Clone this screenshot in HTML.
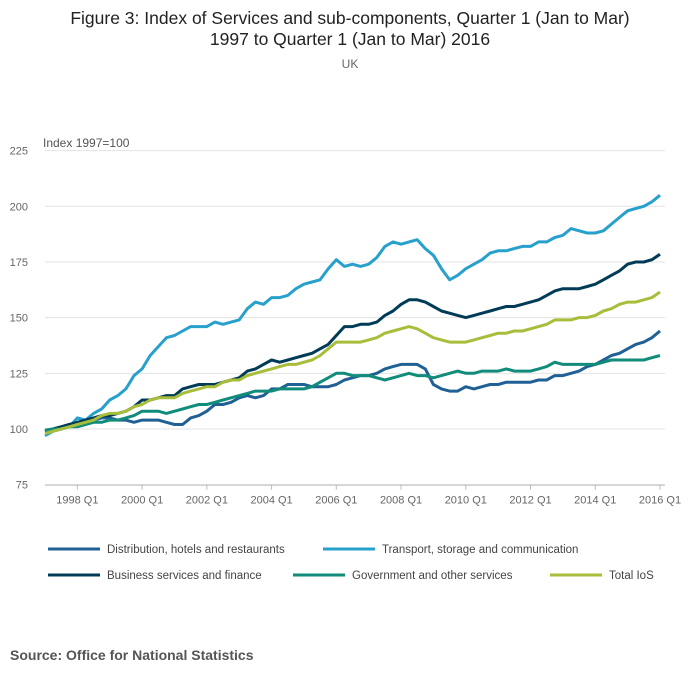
<!DOCTYPE html>
<html><head><meta charset="utf-8"><style>
body{margin:0;background:#fff;font-family:"Liberation Sans",sans-serif;}
svg text{font-family:"Liberation Sans",sans-serif;}
</style></head><body>
<svg width="700" height="682" id="c">
<text x="350" y="24" text-anchor="middle" font-size="17.5" fill="#222">Figure 3: Index of Services and sub-components, Quarter 1 (Jan to Mar)</text>
<text x="350" y="45" text-anchor="middle" font-size="17.5" fill="#222">1997 to Quarter 1 (Jan to Mar) 2016</text>
<text x="350" y="68" text-anchor="middle" font-size="12" fill="#666">UK</text>
<text x="43" y="147" font-size="12" fill="#555">Index 1997=100</text>
<g id="grid"></g><g id="series"></g><g id="legend"></g>
<text x="10" y="660" font-size="14" font-weight="bold" fill="#555">Source: Office for National Statistics</text>
</svg>
<script>
const yTicks=[75,100,125,150,175,200,225];
const xTickLabels=["1998 Q1","2000 Q1","2002 Q1","2004 Q1","2006 Q1","2008 Q1","2010 Q1","2012 Q1","2014 Q1","2016 Q1"];
const xTickIdx=[4,12,20,28,36,44,52,60,68,76];
const seriesNames=["Distribution, hotels and restaurants","Transport, storage and communication","Business services and finance","Government and other services","Total IoS"];
const distribution=[99,100,101,102,102,103,104,105,105,104,104,103,104,104,104,103,102,102,105,106,108,111,111,112,114,115,114,115,118,118,120,120,120,119,119,119,120,122,123,124,124,125,127,128,129,129,129,127,120,118,117,117,119,118,119,120,120,121,121,121,121,122,122,124,124,125,126,128,129,131,133,134,136,138,139,141,144];
const transport=[97,99,100,101,105,104,107,109,113,115,118,124,127,133,137,141,142,144,146,146,146,148,147,148,149,154,157,156,159,159,160,163,165,166,167,172,176,173,174,173,174,177,182,184,183,184,185,181,178,172,167,169,172,174,176,179,180,180,181,182,182,184,184,186,187,190,189,188,188,189,192,195,198,199,200,202,205];
const business=[99,100,101,102,103,104,105,106,106,107,108,110,113,113,114,115,115,118,119,120,120,120,121,122,123,126,127,129,131,130,131,132,133,134,136,138,142,146,146,147,147,148,151,153,156,158,158,157,155,153,152,151,150,151,152,153,154,155,155,156,157,158,160,162,163,163,163,164,165,167,169,171,174,175,175,176,178.5];
const government=[99.5,100,100,101,101,102,103,103,104,104,105,106,108,108,108,107,108,109,110,111,111,112,113,114,115,116,117,117,117,118,118,118,118,119,121,123,125,125,124,124,124,123,122,123,124,125,124,124,123,124,125,126,125,125,126,126,126,127,126,126,126,127,128,130,129,129,129,129,129,130,131,131,131,131,131,132,133];
const totalIoS=[98,99,100,101,102,103,104,106,107,107,108,110,111,113,114,114,114,116,117,118,119,119,121,122,122,124,125,126,127,128,129,129,130,131,133,136,139,139,139,139,140,141,143,144,145,146,145,143,141,140,139,139,139,140,141,142,143,143,144,144,145,146,147,149,149,149,150,150,151,153,154,156,157,157,158,159,161.5];
const colors=["#206095","#27a0cc","#003c57","#118c7b","#a8bd3a"];
const NS="http://www.w3.org/2000/svg";
const x=i=>45+i*(615/76);
const y=v=>429-(v-100)*2.227;
function mk(t,a,p){const e=document.createElementNS(NS,t);for(const k in a)e.setAttribute(k,a[k]);p.appendChild(e);return e;}
const grid=document.getElementById('grid');
yTicks.forEach(v=>{
 const l=mk('line',{x1:45,x2:665,y1:y(v),y2:y(v),stroke:'#e3e3e3','stroke-width':1},grid);
 
 
 const t=mk('text',{x:28,y:y(v)+4,'text-anchor':'end','font-size':11,fill:'#666'},grid);
 t.textContent=v;
 
 
});
const ax=mk('line',{x1:45,x2:665,y1:y(75)+0.5,y2:y(75)+0.5,stroke:'#bbb'},grid);


xTickIdx.forEach((q,i)=>{
 const tk=mk('line',{x1:x(q),x2:x(q),y1:y(75),y2:y(75)+5,stroke:'#bbb'},grid);
 
 
 const t=mk('text',{x:x(q),y:y(75)+19,'text-anchor':'middle','font-size':11,fill:'#666'},grid);
 t.textContent=xTickLabels[i];
 
 
});
const sg=document.getElementById('series');
const data=[distribution,transport,business,government,totalIoS];
const keys=['distribution','transport','business','government','total-ios'];
data.forEach((d,s)=>{
 const p=mk('path',{d:d.map((v,i)=>(i?'L':'M')+x(i).toFixed(1)+','+y(v).toFixed(1)).join(''),fill:'none',stroke:colors[s],'stroke-width':3,'stroke-linejoin':'round'},sg);
 
 
});
const lg=document.getElementById('legend');
const pos=[[48,549],[323,549],[48,575],[293,575],[550,575]];
pos.forEach((pp,s)=>{
 const l=mk('line',{x1:pp[0],x2:pp[0]+52,y1:pp[1],y2:pp[1],stroke:colors[s],'stroke-width':3},lg);
 
 
 const t=mk('text',{x:pp[0]+59,y:pp[1]+4,'font-size':11.5,fill:'#444'},lg);
 t.textContent=seriesNames[s];
 
 
});
</script>
</body></html>
